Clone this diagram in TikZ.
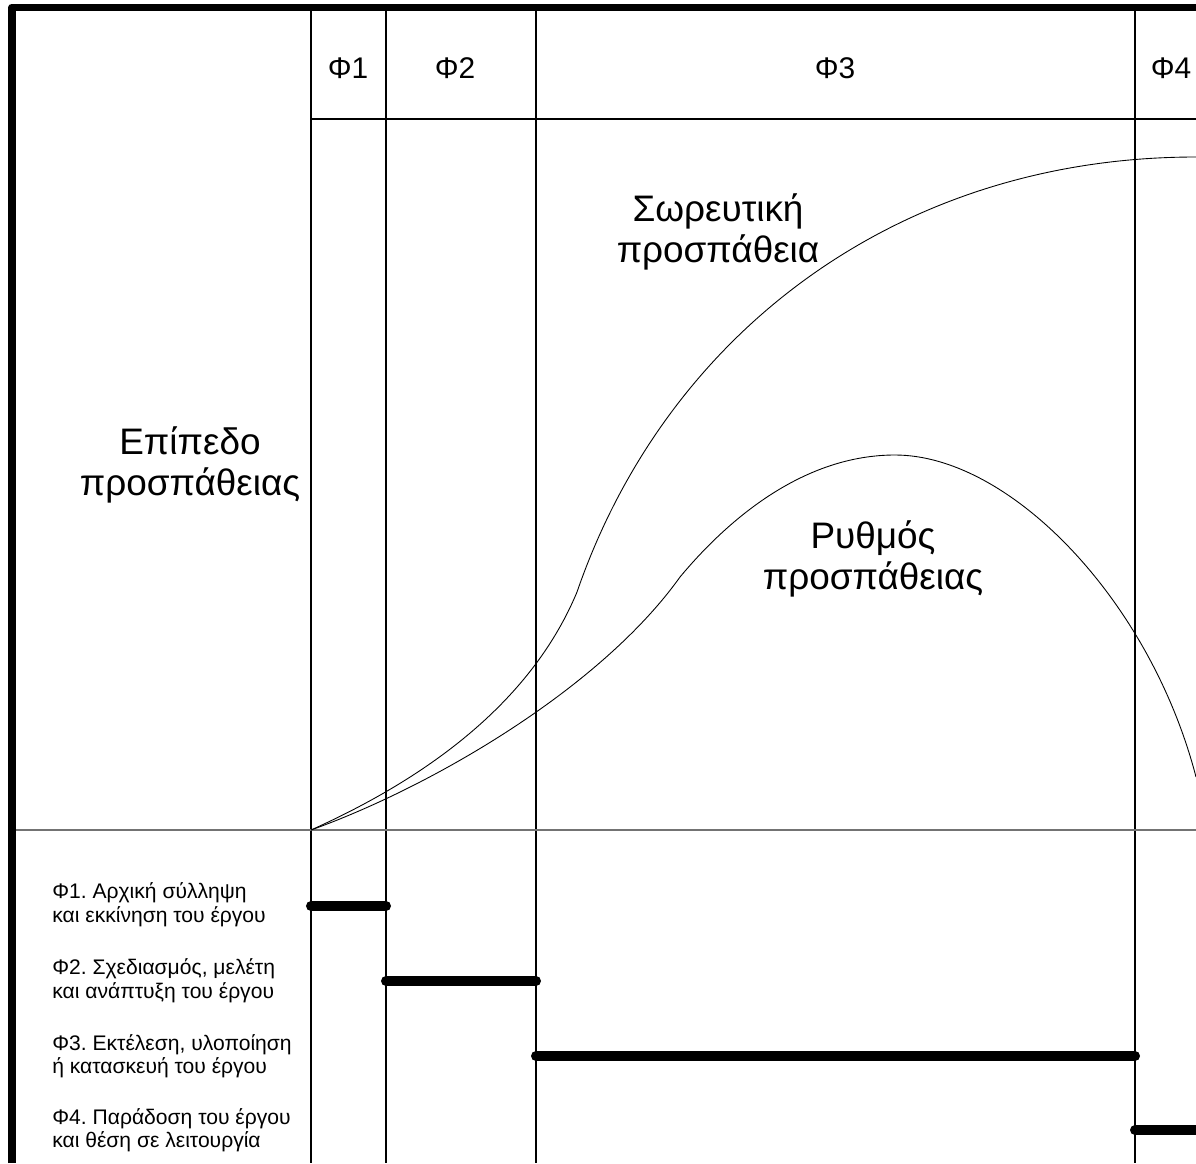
\documentclass[tikz,border=0pt]{standalone}
\usepackage{fontspec}
\setmainfont{Liberation Sans}
\usepackage{tikz}
\frenchspacing

\tikzset{
  grid line/.style={line width=0.7pt},
  curve line/.style={line width=0.5pt},
  phase bar/.style={line width=5.7pt, line cap=round},
  head label/.style={font=\fontsize{17}{20}\selectfont},
  big label/.style={align=center, font=\fontsize{21}{23}\selectfont},
  note label/.style={align=left, anchor=west, inner sep=0pt, font=\fontsize{12}{13.4}\selectfont}
}

\begin{document}
\begin{tikzpicture}[x=0.02cm, y=-0.02cm]
  \useasboundingbox (0,0) rectangle (1196,1163);
  \clip (0,0) rectangle (1196,1163);

  % Phase borders
  \foreach \px/\nm in {311/a, 386/b, 536/c, 1135/d} {
    \coordinate (top\nm) at (\px,11);
    \coordinate (bot\nm) at (\px,1163);
    \draw[grid line] (top\nm) -- (bot\nm);
  }
  \coordinate (headR) at (1196,119);
  \coordinate (baseL) at (16,830);
  \coordinate (baseR) at (1196,830);
  \draw[grid line] (311,119) -- (headR);
  \draw[grid line, black!55] (baseL) -- (baseR);

  % Frame
  \draw[line width=4.5pt, line join=round] (12,1163) -- (12,7.5) -- (1196,7.5);

  % Header
  \node[head label] (h1) at (348,68) {Φ1};
  \node[head label] (h2) at (455,68) {Φ2};
  \node[head label] (h3) at (835,68) {Φ3};
  \node[head label] (h4) at (1171,68) {Φ4};

  % Cumulative effort
  \coordinate (origin) at (311,830);
  \coordinate (cumK) at (577,592);
  \coordinate (cumE) at (1196,157);
  \draw[curve line] (origin) .. controls (411,785) and (527,712) .. (cumK)
    .. controls (667,331) and (900,157) .. (cumE);

  % Effort rate
  \coordinate (rateK) at (680,577);
  \coordinate (rateP) at (895,455);
  \coordinate (rateE) at (1196,777);
  \draw[curve line] (origin) .. controls (431,787) and (600,689) .. (rateK)
    .. controls (730,517) and (805,455) .. (rateP)
    .. controls (1010,455) and (1150,600) .. (rateE);

  % Labels
  \node[big label] (level) at (190,465) {Επίπεδο\\προσπάθειας};
  \node[big label] (cumul) at (718,232) {Σωρευτική\\προσπάθεια};
  \node[big label] (rate) at (873,559) {Ρυθμός\\προσπάθειας};

  % Phases list
  \node[note label] (n1) at (52,905) {Φ1. Αρχική σύλληψη\\και εκκίνηση του έργου};
  \node[note label] (n2) at (52,981) {Φ2. Σχεδιασμός, μελέτη\\και ανάπτυξη του έργου};
  \node[note label] (n3) at (52,1056) {Φ3. Εκτέλεση, υλοποίηση\\ή κατασκευή του έργου};
  \node[note label] (n4) at (52,1130) {Φ4. Παράδοση του έργου\\και θέση σε λειτουργία};

  % Phase bars
  \draw[phase bar] (311,906) -- (386,906);
  \draw[phase bar] (386,981) -- (536,981);
  \draw[phase bar] (536,1056) -- (1135,1056);
  \draw[phase bar] (1135,1130) -- (1210,1130);
\end{tikzpicture}
\end{document}
